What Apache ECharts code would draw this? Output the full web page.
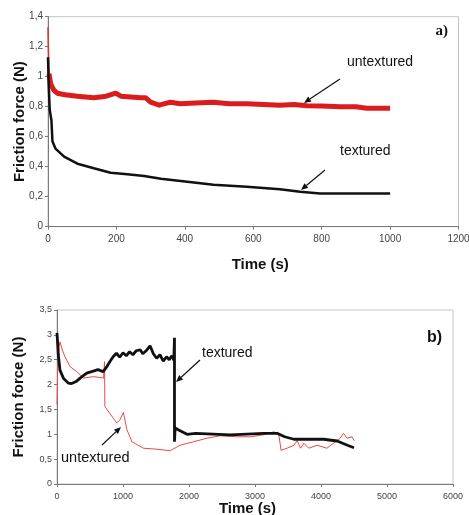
<!DOCTYPE html>
<html>
<head>
<meta charset="utf-8">
<script src="https://cdn.jsdelivr.net/npm/echarts@6/dist/echarts.min.js"></script>
<style>
html,body{margin:0;padding:0;background:#fff;}
#c{width:469px;height:515px;}
</style>
</head>
<body>
<div id="c"></div>
<script>
// ---- Chart a) ----
var aXTicks = [0, 200, 400, 600, 800, 1000, 1200];
var aUntexStartT = [0, 1, 3];
var aUntexStartV = [1.33, 1.2, 1.02];
var aUntexT = [3, 8, 17, 27, 50, 86, 134, 170, 198, 213, 271, 285, 300, 325, 358, 387, 430, 484, 530, 581, 630, 678, 720, 756, 800, 854, 900, 932, 970, 1000];
var aUntexV = [1.02, 0.95, 0.91, 0.89, 0.88, 0.87, 0.86, 0.87, 0.89, 0.87, 0.86, 0.86, 0.83, 0.81, 0.83, 0.82, 0.825, 0.83, 0.82, 0.82, 0.815, 0.81, 0.815, 0.807, 0.805, 0.80, 0.80, 0.79, 0.79, 0.79];
var aTexT = [0, 2, 5, 10, 13, 22, 47, 86, 134, 183, 232, 281, 330, 388, 484, 581, 678, 737, 795, 873, 1000];
var aTexV = [1.13, 0.95, 0.78, 0.71, 0.57, 0.52, 0.467, 0.42, 0.39, 0.36, 0.35, 0.338, 0.32, 0.305, 0.28, 0.267, 0.25, 0.233, 0.222, 0.222, 0.222];

// ---- Chart b) ----
var bXTicks = [0, 1000, 2000, 3000, 4000, 5000, 6000];
var bTexT = [0, 20, 45, 100, 170, 222, 290, 350, 450, 550, 620, 700, 750, 800, 850, 900, 950, 1000, 1050, 1100, 1150, 1200, 1260, 1300, 1350, 1410, 1460, 1510, 1560, 1610, 1660, 1700, 1740, 1770, 1780, 1780, 1790, 1850, 1970, 2100, 2625, 3130, 3335, 3450, 3590, 4040, 4245, 4400, 4500];
var bTexV = [3.04, 2.6, 2.29, 2.12, 2.03, 2.02, 2.06, 2.13, 2.23, 2.27, 2.3, 2.26, 2.35, 2.46, 2.56, 2.63, 2.55, 2.64, 2.58, 2.66, 2.6, 2.68, 2.7, 2.62, 2.68, 2.78, 2.62, 2.53, 2.6, 2.47, 2.56, 2.5, 2.58, 2.49, 2.94, 0.85, 1.13, 1.08, 1.0, 1.02, 0.99, 1.02, 1.02, 0.95, 0.9, 0.9, 0.865, 0.78, 0.73];
var bUntexT = [0, 10, 30, 45, 80, 120, 200, 300, 400, 550, 705, 720, 725, 800, 905, 955, 1005, 1060, 1135, 1310, 1510, 1715, 1865, 2070, 2270, 2470, 2730, 2930, 3130, 3285, 3360, 3395, 3485, 3590, 3640, 3690, 3740, 3815, 3940, 4090, 4190, 4290, 4340, 4395, 4470, 4505];
var bUntexV = [1.6, 2.3, 2.75, 2.86, 2.7, 2.56, 2.36, 2.26, 2.13, 2.16, 2.13, 2.46, 1.56, 1.42, 1.23, 1.29, 1.44, 1.09, 0.85, 0.72, 0.70, 0.67, 0.78, 0.85, 0.92, 0.97, 0.95, 0.95, 0.99, 1.05, 1.0, 0.68, 0.72, 0.78, 0.87, 0.72, 0.82, 0.72, 0.78, 0.72, 0.82, 0.92, 1.02, 0.92, 0.95, 0.87];

function pairs(t, v) { return t.map(function (x, i) { return [x, v[i]]; }); }
function comma(v) { return (Math.round(v * 10) / 10).toString().replace('.', ','); }
function plain(v) { return String(v); }

var axisLabelStyle = { fontFamily: 'Arial, Liberation Sans', fontSize: 10, color: '#444' };
var axLine = { lineStyle: { color: '#7a7a7a', width: 1 } };
var axTick = { show: true, length: 3, inside: false, lineStyle: { color: '#7a7a7a' } };
var nameStyle = { fontFamily: 'Arial, Liberation Sans', fontWeight: 'bold', fontSize: 15, color: '#111' };

var chart = echarts.init(document.getElementById('c'), null, { renderer: 'canvas' });

function arrow(x1, y1, x2, y2) {
  var ang = Math.atan2(y2 - y1, x2 - x1), L = 7, W = 3;
  var bx = x2 - L * Math.cos(ang), by = y2 - L * Math.sin(ang);
  var px = -Math.sin(ang) * W, py = Math.cos(ang) * W;
  return [
    { type: 'line', shape: { x1: x1, y1: y1, x2: bx, y2: by }, style: { stroke: '#111', lineWidth: 1.2 } },
    { type: 'polygon', shape: { points: [[x2, y2], [bx + px, by + py], [bx - px, by - py]] }, style: { fill: '#111' } }
  ];
}
function label(text, x, y, size, bold, family, align) {
  return { type: 'text', x: x, y: y, style: { text: text, fontSize: size, fontWeight: bold ? 'bold' : 'normal', fontFamily: family || 'Arial, Liberation Sans', fill: '#111', textAlign: align || 'left', textVerticalAlign: 'middle' } };
}

var graphics = [].concat(
  [label('a)', 448, 31, 15, true, 'Liberation Serif, Times New Roman', 'right'),
   label('untextured', 347, 62, 14, false),
   label('textured', 340, 151, 14, false),
   label('b)', 442, 338, 16, true, 'Arial, Liberation Sans', 'right'),
   label('textured', 202, 353, 14, false),
   label('untextured', 61, 458, 14.5, false)],
  arrow(340, 79, 304, 103),
  arrow(325, 170, 301, 190),
  arrow(200, 360, 176, 382),
  arrow(102, 445, 121, 427)
);

chart.setOption({
  animation: false,
  backgroundColor: '#fff',
  grid: [
    { left: 48, top: 16.7, width: 410.5, height: 210, show: true, borderColor: '#c4c4c4', borderWidth: 1, backgroundColor: 'transparent', outerBoundsMode: 'none', containLabel: false },
    { left: 57, top: 310, width: 396, height: 174, show: true, borderColor: '#c4c4c4', borderWidth: 1, backgroundColor: 'transparent', outerBoundsMode: 'none', containLabel: false }
  ],
  xAxis: [
    { gridIndex: 0, type: 'value', min: aXTicks[0], max: aXTicks[aXTicks.length - 1], interval: aXTicks[1] - aXTicks[0],
      axisLine: axLine, axisTick: axTick, splitLine: { show: false }, axisLabel: Object.assign({ margin: 8, formatter: plain }, axisLabelStyle),
      name: 'Time (s)', nameLocation: 'middle', nameGap: 31, nameMoveOverlap: false, nameTextStyle: Object.assign({ padding: [0, 0, 0, 14] }, nameStyle) },
    { gridIndex: 1, type: 'value', min: bXTicks[0], max: bXTicks[bXTicks.length - 1], interval: bXTicks[1] - bXTicks[0],
      axisLine: axLine, axisTick: axTick, splitLine: { show: false }, axisLabel: Object.assign({ margin: 8, formatter: plain }, axisLabelStyle, { fontSize: 9 }),
      name: 'Time (s)', nameLocation: 'middle', nameGap: 17, nameMoveOverlap: false, nameTextStyle: Object.assign({ padding: [0, 15, 0, 0] }, nameStyle) }
  ],
  yAxis: [
    { gridIndex: 0, type: 'value', min: 0, max: 1.4, interval: 0.2,
      axisLine: Object.assign({ show: true }, axLine), axisTick: axTick, splitLine: { show: false },
      axisLabel: Object.assign({ formatter: comma, margin: 5 }, axisLabelStyle),
      name: 'Friction force (N)', nameLocation: 'middle', nameGap: 21, nameMoveOverlap: false, nameTextStyle: nameStyle },
    { gridIndex: 1, type: 'value', min: 0, max: 3.5, interval: 0.5,
      axisLine: Object.assign({ show: true }, axLine), axisTick: axTick, splitLine: { show: false },
      axisLabel: Object.assign({ formatter: comma, margin: 5 }, axisLabelStyle, { fontSize: 9 }),
      name: 'Friction force (N)', nameLocation: 'middle', nameGap: 31, nameMoveOverlap: false, nameTextStyle: nameStyle }
  ],
  series: [
    { name: 'untextured a start', type: 'line', xAxisIndex: 0, yAxisIndex: 0, data: pairs(aUntexStartT, aUntexStartV), showSymbol: false,
      lineStyle: { color: '#e03030', width: 1.5 } },
    { name: 'untextured a', type: 'line', xAxisIndex: 0, yAxisIndex: 0, data: pairs(aUntexT, aUntexV), showSymbol: false,
      lineStyle: { color: '#dc1c1c', width: 5, join: 'round' } },
    { name: 'textured a', type: 'line', xAxisIndex: 0, yAxisIndex: 0, data: pairs(aTexT, aTexV), showSymbol: false,
      lineStyle: { color: '#111', width: 2.5 } },
    { name: 'untextured b', type: 'line', xAxisIndex: 1, yAxisIndex: 1, data: pairs(bUntexT, bUntexV), showSymbol: false,
      lineStyle: { color: '#f04848', width: 1 } },
    { name: 'textured b', type: 'line', xAxisIndex: 1, yAxisIndex: 1, data: pairs(bTexT, bTexV), showSymbol: false,
      lineStyle: { color: '#111', width: 2.8 } }
  ],
  graphic: graphics
});
</script>
</body>
</html>
